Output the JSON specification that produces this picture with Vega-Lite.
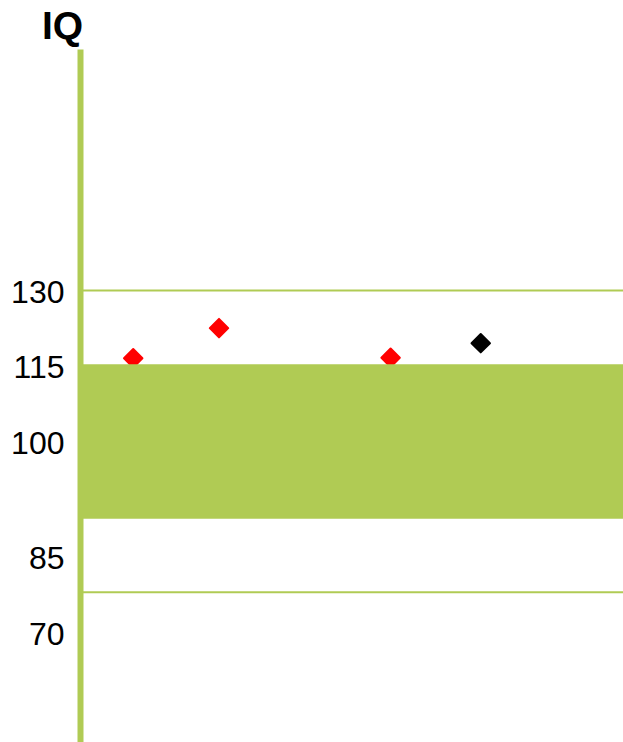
{
  "$schema": "https://vega.github.io/schema/vega-lite/v6.json",
  "width": 543,
  "height": 694,
  "padding": {"left": 80, "top": 49, "right": 0, "bottom": 0},
  "autosize": "none",
  "config": {
    "view": {"stroke": null},
    "font": "Liberation Sans"
  },
  "datasets": {
    "scores": [
      {"test": 0.98, "iq": 116.5, "group": "red"},
      {"test": 2.56, "iq": 122.5, "group": "red"},
      {"test": 5.72, "iq": 116.6, "group": "red"},
      {"test": 7.38, "iq": 119.5, "group": "black"}
    ],
    "lines": [{"iq": 130}, {"iq": 70}],
    "band": [{"low": 84.6, "high": 115.3}]
  },
  "layer": [
    {
      "data": {"name": "lines"},
      "mark": {"type": "rule", "color": "#b0cb54", "strokeWidth": 2},
      "encoding": {
        "y": {
          "field": "iq",
          "type": "quantitative",
          "scale": {"domain": [40, 178], "nice": false, "zero": false},
          "axis": {
            "values": [130, 115, 100, 85, 70],
            "title": "IQ",
            "titleAngle": 0,
            "titleFontSize": 39,
            "titleFontWeight": "bold",
            "titleColor": "#000000",
            "titleAlign": "center",
            "titleBaseline": "alphabetic",
            "titleX": -18,
            "titleY": -11,
            "ticks": false,
            "grid": false,
            "domainColor": "#b0cb54",
            "domainWidth": 6,
            "labelFontSize": 32,
            "labelColor": "#000000",
            "labelPadding": 16,
            "labelOffset": {"expr": "datum.value < 90 ? 42 : 2"}
          }
        }
      }
    },
    {
      "data": {"name": "scores"},
      "mark": {"type": "point", "shape": "diamond", "filled": true, "size": 340, "strokeWidth": 2, "strokeJoin": "round", "opacity": 1},
      "encoding": {
        "x": {"field": "test", "type": "quantitative", "scale": {"domain": [0, 10], "nice": false}, "axis": null},
        "y": {"field": "iq", "type": "quantitative"},
        "fill": {"field": "group", "type": "nominal", "scale": {"domain": ["red", "black"], "range": ["#ff0000", "#000000"]}, "legend": null},
        "stroke": {"field": "group", "type": "nominal", "scale": {"domain": ["red", "black"], "range": ["#ff0000", "#000000"]}, "legend": null}
      }
    },
    {
      "data": {"name": "band"},
      "mark": {"type": "rect", "color": "#b0cb54", "opacity": 1},
      "encoding": {
        "y": {"field": "high", "type": "quantitative"},
        "y2": {"field": "low"}
      }
    }
  ]
}
